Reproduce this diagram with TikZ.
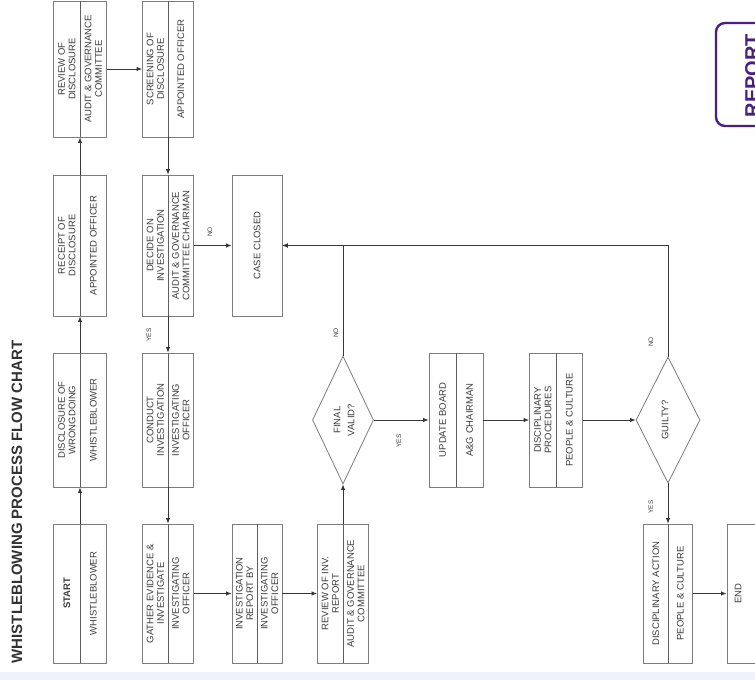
\documentclass[tikz,border=0pt]{standalone}
\usepackage{fontspec}
\setmainfont{Liberation Sans}
\usetikzlibrary{shapes.geometric,arrows.meta}
\definecolor{boxline}{RGB}{125,125,125}
\definecolor{divline}{RGB}{95,95,95}
\definecolor{conncol}{RGB}{55,55,55}
\definecolor{txtcol}{RGB}{60,60,60}
\definecolor{titlecol}{RGB}{50,50,50}
\definecolor{purp}{RGB}{76,30,128}
\definecolor{band}{RGB}{238,243,251}
\begin{document}
\begin{tikzpicture}[x=1pt,y=-1pt,
  box/.style n args={2}{draw=boxline,line width=0.8pt,fill=white,inner sep=0pt,minimum width=#1,minimum height=#2},
  dia/.style n args={2}{diamond,draw=boxline,line width=0.8pt,fill=white,inner sep=0pt,minimum width=#1,minimum height=#2},
  divider/.style={draw=divline,line width=0.8pt},
  conn/.style={draw=conncol,line width=0.9pt,-{Latex[length=5.5pt,width=4.5pt]}},
  txt/.style={rotate=90,font=\fontsize{9.5}{10.5}\selectfont,text=txtcol,align=center,inner sep=0pt},
  lbl/.style={rotate=90,font=\fontsize{6.5}{7}\selectfont,text=txtcol,inner sep=0pt},
  ttl/.style={rotate=90,font=\bfseries\fontsize{15}{16}\selectfont,text=titlecol,inner sep=0pt}]
\useasboundingbox (0,0) rectangle (755,680);
\clip (0,0) rectangle (755,680);
\fill[white] (0,0) rectangle (755,680);
\fill[band] (0,672) rectangle (755,680);

% title
\node[ttl] (title) at (17,502) {WHISTLEBLOWING PROCESS FLOW CHART};

% column 1
\node[box={53pt}{136pt}] (review) at (80,69) {};
\node[box={53pt}{141pt}] (receipt) at (80,245.5) {};
\node[box={53pt}{134pt}] (disclosure) at (80,420) {};
\node[box={53pt}{139pt}] (start) at (80,593.5) {};
% column 2
\node[box={51pt}{136pt}] (screening) at (168,69) {};
\node[box={51pt}{141pt}] (decide) at (168,245.5) {};
\node[box={51pt}{134pt}] (conduct) at (168,420) {};
\node[box={51pt}{139pt}] (gather) at (168,593.5) {};
% column 3
\node[box={50pt}{141pt}] (closed) at (257,245.5) {};
\node[box={50pt}{139pt}] (invrep) at (257,593.5) {};
% column 4
\node[dia={61pt}{128pt}] (valid) at (343,420) {};
\node[box={51pt}{139pt}] (revev) at (343,593.5) {};
% column 5, 6
\node[box={54pt}{134pt}] (update) at (456,420) {};
\node[box={53pt}{134pt}] (discproc) at (556,420) {};
% column 7
\node[dia={64pt}{126pt}] (guilty) at (668,420) {};
\node[box={49pt}{139pt}] (discact) at (668,593.5) {};
% end
\node[box={50pt}{139pt}] (endbox) at (752,593.5) {};

% dividers
\foreach \b in {review,receipt,disclosure,start,screening,decide,conduct,gather,invrep,revev,update,discproc,discact}
  \draw[divider] (\b.north) -- (\b.south);

% texts
\node[txt] (t1a) at (66.75,69) {REVIEW OF\\DISCLOSURE};
\node[txt] (t1b) at (93.25,69) {AUDIT \& GOVERNANCE\\COMMITTEE};
\node[txt] (t2a) at (66.75,245.5) {RECEIPT OF\\DISCLOSURE};
\node[txt] (t2b) at (93.25,245.5) {APPOINTED OFFICER};
\node[txt] (t3a) at (66.75,420) {DISCLOSURE OF\\WRONGDOING};
\node[txt] (t3b) at (93.25,420) {WHISTLEBLOWER};
\node[txt,font=\bfseries\fontsize{9.5}{10.5}\selectfont] (t4a) at (66.75,593.5) {START};
\node[txt] (t4b) at (93.25,593.5) {WHISTLEBLOWER};

\node[txt] (t5a) at (155.25,69) {SCREENING OF\\DISCLOSURE};
\node[txt] (t5b) at (180.75,69) {APPOINTED OFFICER};
\node[txt] (t6a) at (155.25,245.5) {DECIDE ON\\INVESTIGATION};
\node[txt] (t6b) at (180.75,245.5) {AUDIT \& GOVERNANCE\\COMMITTEE CHAIRMAN};
\node[txt] (t7a) at (155.25,420) {CONDUCT\\INVESTIGATION};
\node[txt] (t7b) at (180.75,420) {INVESTIGATING\\OFFICER};
\node[txt] (t8a) at (155.25,593.5) {GATHER EVIDENCE \&\\INVESTIGATE};
\node[txt] (t8b) at (180.75,593.5) {INVESTIGATING\\OFFICER};

\node[txt] (t9) at (257,245.5) {CASE CLOSED};
\node[txt] (t10a) at (244.5,593.5) {INVESTIGATION\\REPORT BY};
\node[txt] (t10b) at (269.5,593.5) {INVESTIGATING\\OFFICER};

\node[txt,font=\fontsize{9.5}{14}\selectfont] (t11) at (344,420) {FINAL\\VALID?};
\node[txt] (t12a) at (330.25,593.5) {REVIEW OF INV.\\REPORT};
\node[txt] (t12b) at (355.75,593.5) {AUDIT \& GOVERNANCE\\COMMITTEE};

\node[txt] (t13a) at (442.5,420) {UPDATE BOARD};
\node[txt] (t13b) at (469.5,420) {A\&G CHAIRMAN};
\node[txt] (t14a) at (542.75,420) {DISCIPLINARY\\PROCEDURES};
\node[txt] (t14b) at (569.25,420) {PEOPLE \& CULTURE};

\node[txt] (t15) at (665,420) {GUILTY?};
\node[txt] (t16a) at (655.75,593.5) {DISCIPLINARY ACTION};
\node[txt] (t16b) at (680.25,593.5) {PEOPLE \& CULTURE};
\node[txt] (t17) at (738,593.5) {END};

% connectors
\draw[conn] (start) -- (disclosure);
\draw[conn] (disclosure) -- (receipt);
\draw[conn] (receipt) -- (review);
\draw[conn] (review) -- (screening);
\draw[conn] (screening) -- (decide);
\draw[conn] (decide) -- (conduct);
\draw[conn] (decide) -- (closed);
\draw[conn] (conduct) -- (gather);
\draw[conn] (gather) -- (invrep);
\draw[conn] (invrep) -- (revev);
\draw[conn] (revev) -- (valid);
\draw[conn] (valid.north) |- (closed.east);
\draw[conn] (valid) -- (update);
\draw[conn] (update) -- (discproc);
\draw[conn] (discproc) -- (guilty);
\draw[conn] (guilty.north) |- (closed.east);
\draw[conn] (guilty) -- (discact);
\draw[conn] (discact) -- (endbox);

% labels
\node[lbl] (l1) at (149,335) {YES};
\node[lbl] (l2) at (210,232) {NO};
\node[lbl] (l3) at (336,333) {NO};
\node[lbl] (l4) at (399,441) {YES};
\node[lbl] (l5) at (651,342) {NO};
\node[lbl] (l6) at (651,507) {YES};

% report tab
\node[draw=purp,line width=2.4pt,rounded corners=9pt,fill=white,minimum width=80pt,minimum height=103pt,inner sep=0pt] (report) at (756,74.5) {};
\node[rotate=90,anchor=north,inner sep=0pt,text=purp,font=\bfseries\fontsize{20}{20}\selectfont] (reporttxt) at (745,75.5) {REPORT};
\end{tikzpicture}
\end{document}
